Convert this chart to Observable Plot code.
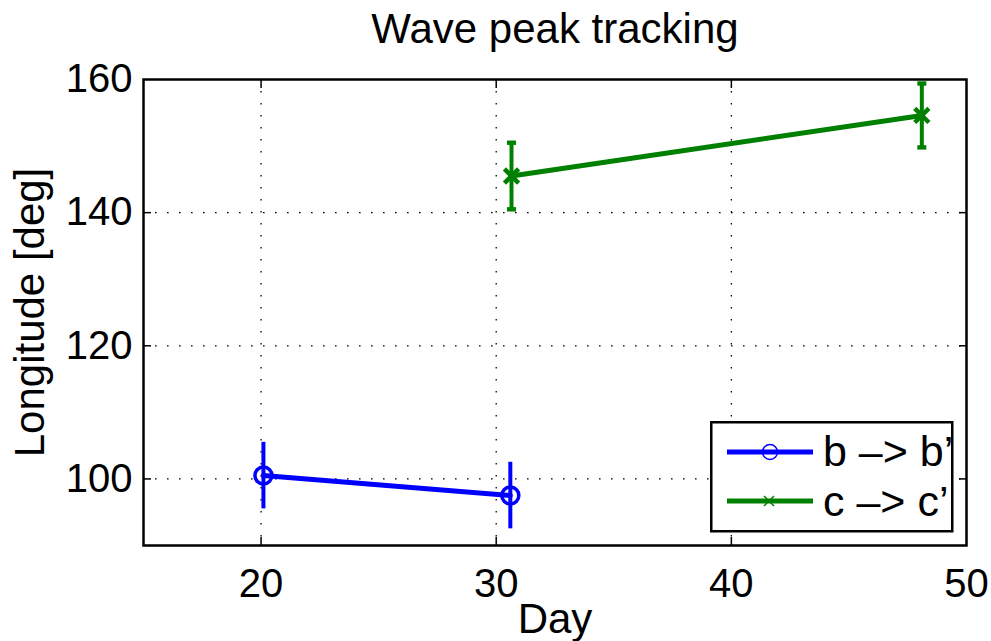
<!DOCTYPE html>
<html><head><meta charset="utf-8">
<script src="https://cdn.jsdelivr.net/npm/d3@7"></script>
<script src="https://cdn.jsdelivr.net/npm/@observablehq/plot@0.6"></script>
<style>
body{margin:0;background:#fff;font-family:"Liberation Sans",Arial,sans-serif;}
#wrap{position:relative;width:991px;height:641px;overflow:hidden;background:#fff}
#legend{position:absolute;left:710px;top:421px;}
</style></head><body><div id="wrap"><div id="chart"></div><div id="legend"></div></div>
<script>
const title = "Wave peak tracking";
const xLabel = "Day";
const yLabel = "Longitude [deg]";
const xTicks = [20, 30, 40, 50];
const yTicks = [100, 120, 140, 160];
const seriesNames = ["b –> b’", "c –> c’"];
const seriesColors = ["#0000ff", "#008000"];
const bDays = [20.1, 30.6];
const bLon = [100.5, 97.5];
const bErr = [5, 5];
const cDays = [30.65, 48.1];
const cLon = [145.5, 154.6];
const cErr = [5, 4.8];

const B = bDays.map((d, i) => ({day: d, lon: bLon[i], err: bErr[i]}));
const C = cDays.map((d, i) => ({day: d, lon: cLon[i], err: cErr[i]}));
const caps = C.flatMap(d => [{day: d.day, y: d.lon - d.err}, {day: d.day, y: d.lon + d.err}]);
const capSymbol = {draw(ctx) { ctx.rect(-4.5, -2.2, 9, 4.4); }};
const FONT = "Liberation Sans, Arial, sans-serif";
const dash = "1.6,10.4";

const chart = Plot.plot({
  width: 991, height: 641,
  marginLeft: 143, marginRight: 25, marginTop: 79, marginBottom: 96,
  style: {fontFamily: FONT, fontSize: "40px", color: "#000", background: "#fff"},
  x: {domain: [15, 50], label: null},
  y: {domain: [90, 160], label: null},
  marks: [
    Plot.gridX(xTicks.filter(t => t < 50), {stroke: "#000", strokeOpacity: 1, strokeWidth: 1.3, strokeDasharray: dash}),
    Plot.gridY(yTicks.filter(t => t < 160), {stroke: "#000", strokeOpacity: 1, strokeWidth: 1.3, strokeDasharray: dash}),
    Plot.ruleX(B, {x: "day", y1: d => d.lon - d.err, y2: d => d.lon + d.err, stroke: seriesColors[0], strokeWidth: 4}),
    Plot.line(B, {x: "day", y: "lon", stroke: seriesColors[0], strokeWidth: 5}),
    Plot.dot(B, {x: "day", y: "lon", r: 8.5, stroke: seriesColors[0], strokeWidth: 3.5, fill: "none"}),
    Plot.ruleX(C, {x: "day", y1: d => d.lon - d.err, y2: d => d.lon + d.err, stroke: seriesColors[1], strokeWidth: 4}),
    Plot.line(C, {x: "day", y: "lon", stroke: seriesColors[1], strokeWidth: 5}),
    Plot.dot(caps, {x: "day", y: "y", symbol: capSymbol, fill: seriesColors[1], stroke: "none"}),
    Plot.dot(C, {x: "day", y: "lon", symbol: "times", r: 6.5, stroke: seriesColors[1], strokeWidth: 4.5}),
    Plot.frame({stroke: "#000", strokeWidth: 2.5}),
    Plot.axisX(xTicks, {anchor: "bottom", tickSize: 0, tickPadding: 23, fontSize: 40, label: null}),
    Plot.axisY(yTicks, {anchor: "left", tickSize: 0, tickPadding: 11, fontSize: 40, label: null}),
    Plot.axisX(xTicks.filter(t => t < 50), {anchor: "bottom", tickSize: -8, fill: "none", strokeWidth: 1.5, label: null}),
    Plot.axisX(xTicks.filter(t => t < 50), {anchor: "top", tickSize: -8, fill: "none", strokeWidth: 1.5, label: null}),
    Plot.axisY(yTicks.filter(t => t < 160), {anchor: "left", tickSize: -8, fill: "none", strokeWidth: 1.5, label: null}),
    Plot.axisY(yTicks.filter(t => t < 160), {anchor: "right", tickSize: -8, fill: "none", strokeWidth: 1.5, label: null}),
    Plot.text([title], {frameAnchor: "top", dy: -37, lineAnchor: "bottom", fontSize: 42}),
    Plot.text([xLabel], {frameAnchor: "bottom", dy: 87, lineAnchor: "bottom", fontSize: 42}),
    Plot.text([yLabel], {frameAnchor: "left", dx: -100, rotate: -90, textAnchor: "middle", lineAnchor: "bottom", fontSize: 42})
  ]
});
document.getElementById("chart").appendChild(chart);

// Legend
const lg = d3.select("#legend").append("svg").attr("width", 245).attr("height", 113)
  .style("font-family", FONT);
lg.append("rect").attr("x", 1.25).attr("y", 1.25).attr("width", 241).attr("height", 109)
  .attr("fill", "#fff").attr("stroke", "#000").attr("stroke-width", 2.5);
const rowY = [31, 80];
const textY = [45, 95];
seriesNames.forEach((name, i) => {
  const g = lg.append("g");
  g.append("line").attr("x1", 17).attr("x2", 103).attr("y1", rowY[i]).attr("y2", rowY[i])
    .attr("stroke", seriesColors[i]).attr("stroke-width", 5);
  if (i === 0) {
    g.append("circle").attr("cx", 60).attr("cy", rowY[i]).attr("r", 7.5)
      .attr("fill", "none").attr("stroke", seriesColors[i]).attr("stroke-width", 1.5);
  } else {
    g.append("path").attr("d", `M54,${rowY[i]-5}L64,${rowY[i]+5}M54,${rowY[i]+5}L64,${rowY[i]-5}`)
      .attr("stroke", seriesColors[i]).attr("stroke-width", 1.5);
  }
  g.append("text").attr("x", 113).attr("y", textY[i]).attr("font-size", 43).attr("fill", "#000").text(name);
});
</script></body></html>
